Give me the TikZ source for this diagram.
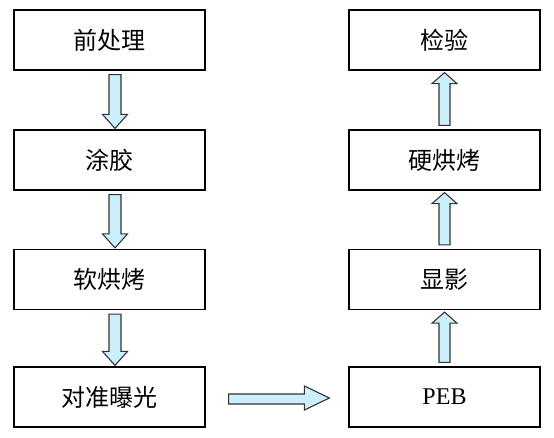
\documentclass[tikz,border=0pt]{standalone}
\usepackage{fontspec}
\setmainfont{Liberation Serif}
\newfontfamily\cjk{Noto Sans CJK SC}
\usetikzlibrary{calc}

\tikzset{
  stepbox/.style={draw=black, line width=1.2pt, minimum width=191pt, minimum height=60pt,
    inner sep=0pt, font=\cjk\fontsize{24}{28}\selectfont},
  flowarrow/.style={draw=black!80, line width=1.1pt, fill=cyan!20, line join=miter},
}

% block arrows between boxes (y runs downward in the picture)
\newcommand{\downflow}[2]{%
  \draw[flowarrow] ($(#1.south)+(-0.5,4)$) -- ($(#1.south)+(11.5,4)$) -- ($(#2.north)+(11.5,-15)$)
    -- ($(#2.north)+(18,-15)$) -- ($(#2.north)+(5.5,-1)$) -- ($(#2.north)+(-7,-15)$)
    -- ($(#2.north)+(-0.5,-15)$) -- cycle;}
\newcommand{\upflow}[2]{%
  \draw[flowarrow] ($(#1.north)+(-5.5,-4)$) -- ($(#1.north)+(5.5,-4)$) -- ($(#2.south)+(5.5,13)$)
    -- ($(#2.south)+(12.5,13)$) -- ($(#2.south)+(0,2)$) -- ($(#2.south)+(-12.5,13)$)
    -- ($(#2.south)+(-5.5,13)$) -- cycle;}
\newcommand{\rightflow}[2]{%
  \draw[flowarrow] ($(#1.east)+(23,-3)$) -- ($(#2.west)+(-44,-3)$) -- ($(#2.west)+(-44,-11)$)
    -- ($(#2.west)+(-19,1)$) -- ($(#2.west)+(-44,13)$) -- ($(#2.west)+(-44,7)$)
    -- ($(#1.east)+(23,7)$) -- cycle;}

\begin{document}
\begin{tikzpicture}[x=1pt,y=-1pt]
	\useasboundingbox (0,0) rectangle (554,437);
	% left column
	\node[stepbox] (pre) at (109.5,40) {前处理};
	\node[stepbox] (coat) at (109.5,160) {涂胶};
	\node[stepbox] (soft) at (109.5,279.5) {软烘烤};
	\node[stepbox] (expo) at (109.5,397) {对准曝光};
	% right column
	\node[stepbox] (peb) at (444.5,397) {\rmfamily PEB};
	\node[stepbox] (dev) at (444.5,279.5) {显影};
	\node[stepbox] (hard) at (444.5,160) {硬烘烤};
	\node[stepbox] (insp) at (444.5,40) {检验};
	
	\downflow{pre}{coat}
	\downflow{coat}{soft}
	\downflow{soft}{expo}
	\rightflow{expo}{peb}
	\upflow{peb}{dev}
	\upflow{dev}{hard}
	\upflow{hard}{insp}
\end{tikzpicture}
\end{document}
